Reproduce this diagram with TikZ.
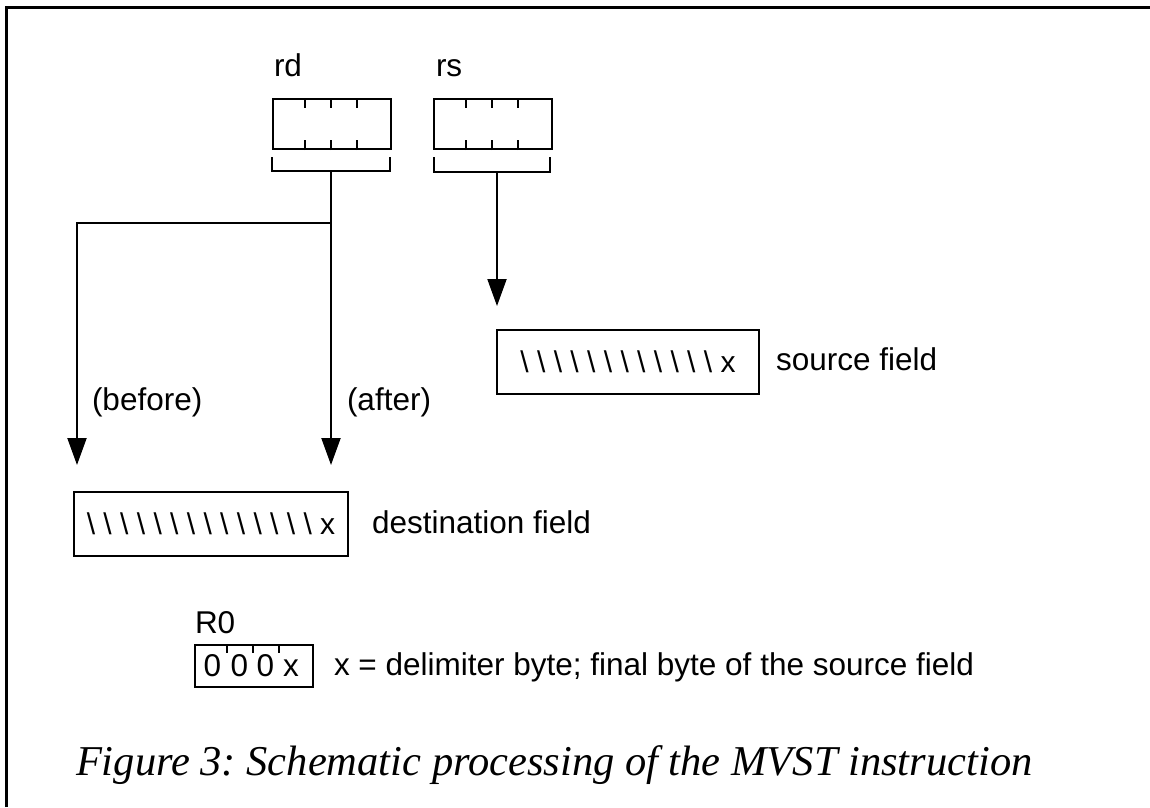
\documentclass[tikz,border=0pt]{standalone}
\usepackage{fontspec}
\setmainfont{Liberation Sans}
\newfontfamily\capfont{Liberation Serif}
\usetikzlibrary{arrows.meta}
\newcommand\lblfont{\fontsize{31.5}{38}\selectfont}
\newcommand\fldfont{\fontsize{30}{36}\selectfont}
\newcommand\bsl{\textbackslash\ }

\begin{document}
\frenchspacing
\begin{tikzpicture}[x=1pt, y=-1pt, line width=2pt,
  lbl/.style={anchor=base west, inner sep=0pt, font=\lblfont},
  reg/.style={draw, minimum width=118pt, minimum height=50pt, inner sep=0pt, anchor=north west},
  field/.style={draw, minimum height=64pt, inner sep=0pt, anchor=north west, font=\fldfont},
  digit/.style={anchor=base, inner sep=0pt, font=\lblfont},
  flow/.style={-{Triangle[length=27pt, width=19pt]}},
  frame/.style={line width=2.5pt}]
\useasboundingbox (0,0) rectangle (1150,807);

% frame: left and top rules only
\draw[frame] (6.5,807) -- (6.5,7.5) -- (1150,7.5);

% registers rd and rs
\node[lbl] (rdlbl) at (273,76) {rd};
\node[lbl] (rslbl) at (435,76) {rs};
\node[reg] (rd) at (272,98) {};
\node[reg] (rs) at (433,98) {};
\foreach \r in {rd,rs}{
  \foreach \d in {33,59,85}{
    \draw ([xshift=\d pt]\r.north west) -- ++(0,10);
    \draw ([xshift=\d pt]\r.south west) -- ++(0,-10);
  }
}

% brackets under the registers
\draw (272,157) -- (272,171) -- (390,171) -- (390,157);
\draw (434,157) -- (434,172) -- (550,172) -- (550,157);
\coordinate (rdb) at (331,171);
\coordinate (rsb) at (497,172);

% fields
\node[field, minimum width=262pt] (src) at (496,329)
  {\bsl\bsl\bsl\bsl\bsl\bsl\bsl\bsl\bsl\bsl\bsl\bsl x};
\node[field, minimum width=274pt] (dest) at (73,491)
  {\bsl\bsl\bsl\bsl\bsl\bsl\bsl\bsl\bsl\bsl\bsl\bsl\bsl\bsl x};
\node[lbl] (srclbl) at (775,370) {source field};
\node[lbl] (destlbl) at (371,533) {destination field};

% connectors
\coordinate (split) at (331,223);
\coordinate (bend) at (77,223);
\coordinate (afterend) at (331,465);
\coordinate (beforeend) at (77,465);
\coordinate (srcend) at (497,306);
\draw[flow] (rsb) -- (srcend);
\draw[flow] (rdb) -- (afterend);
\draw[flow] (split) -- (bend) -- (beforeend);
\node[lbl] (beforelbl) at (91,410) {(before)};
\node[lbl] (afterlbl) at (346,410) {(after)};

% register R0
\node[lbl] (r0lbl) at (194,633) {R0};
\node[reg, minimum height=42pt] (r0) at (194,644) {};
\foreach \d in {33,59,85}{
  \draw ([xshift=\d pt]r0.north west) -- ++(0,9);
}
\node[digit] (b1) at (212.5,676) {0};
\node[digit] (b2) at (239.5,676) {0};
\node[digit] (b3) at (265.5,676) {0};
\node[digit] (b4) at (291,676) {x};
\node[lbl] (note) at (333,675) {x = delimiter byte; final byte of the source field};

% caption
\node[anchor=base west, inner sep=0pt, font=\capfont\itshape\fontsize{42.5}{50}\selectfont]
  (caption) at (75,775) {Figure 3: Schematic processing of the MVST instruction};
\end{tikzpicture}
\end{document}
